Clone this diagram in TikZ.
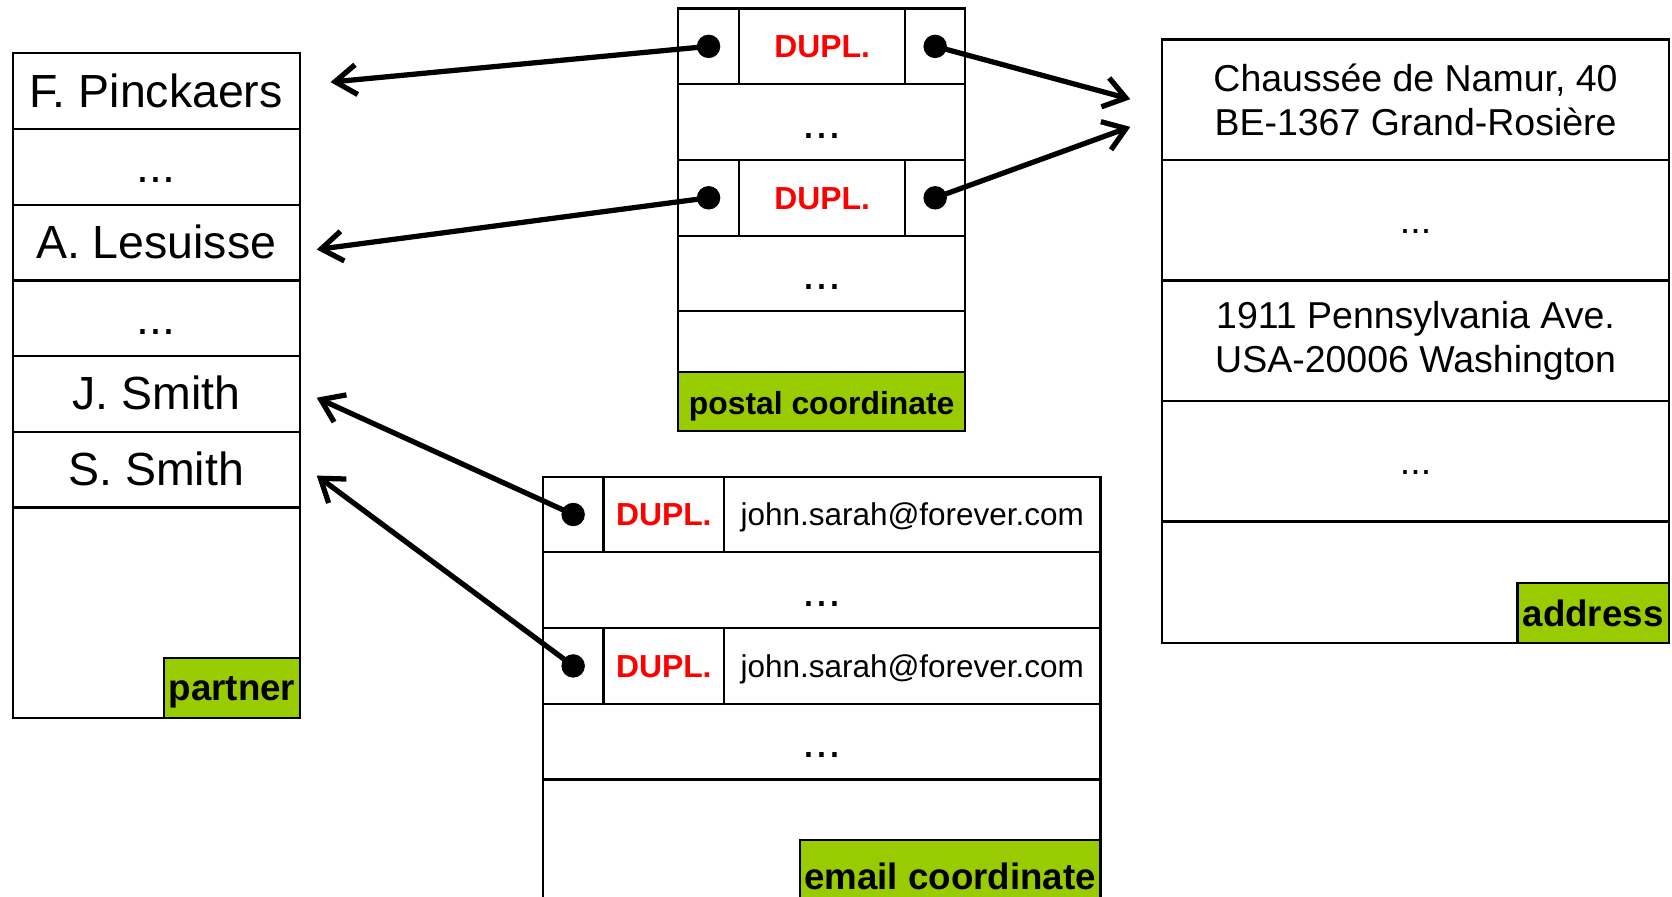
\documentclass[tikz,border=0pt]{standalone}
\usepackage{fontspec}
\setmainfont{Liberation Sans}
\usetikzlibrary{arrows.meta}

\definecolor{tagGreen}{RGB}{153,204,0}
\newcommand{\rowdots}{...}

\begin{document}
\begin{tikzpicture}[
    every node/.style={font=\normalfont},
    cell/.style={draw, semithick, anchor=north west, inner sep=0pt, outer sep=0pt, align=center},
    big/.style={font=\fontsize{12.4}{14}\selectfont, text height=8.5pt, text depth=0pt},
    small/.style={font=\fontsize{10}{11.9}\selectfont},
    dupl/.style={font=\fontsize{8.5}{10}\selectfont\bfseries, text=red, text height=6pt, text depth=0pt},
    mail/.style={font=\fontsize{8.4}{10}\selectfont, text height=6pt, text depth=0pt},
    tag/.style={draw, semithick, fill=tagGreen, anchor=south east, inner sep=0pt, outer sep=0pt,
        font=\fontsize{9.8}{11}\selectfont\bfseries, text height=7pt, text depth=0pt},
    dot/.style={circle, fill, inner sep=0pt, minimum size=.22cm},
    link/.style={line width=1.4pt, -{Straight Barb[length=2mm, width=2.8mm]}},
]
    \useasboundingbox (0,0) rectangle (15.68,-8.41);

    % partner
    \foreach \who [count=\i] in {F. Pinckaers,\rowdots,A. Lesuisse,\rowdots,J. Smith,S. Smith} {
        \pgfmathsetmacro{\y}{-.50-.71*(\i-1)}
        \node[cell, big, minimum width=2.69cm, minimum height=.71cm] (partner\i) at (.12,\y) {\who};
    }
    \node[cell, minimum width=2.69cm, minimum height=1.97cm] (partner7) at (.12,-4.76) {};
    \node[tag, minimum width=1.27cm, minimum height=.56cm] (partnerTag) at (partner7.south east) {partner};

    % postal coordinate
    \foreach \n/\y in {1/-.08, 2/-1.50} {
        \node[cell, minimum width=.57cm, minimum height=.71cm] (postalL\n) at (6.36,\y) {};
        \node[cell, dupl, minimum width=1.56cm, minimum height=.71cm, anchor=west] (postalD\n) at (postalL\n.east) {DUPL.};
        \node[cell, minimum width=.56cm, minimum height=.71cm, anchor=west] (postalR\n) at (postalD\n.east) {};
        \node[dot] (postalLdot\n) at (postalL\n.center) {};
        \node[dot] (postalRdot\n) at (postalR\n.center) {};
    }
    \foreach \n/\y in {1/-.79, 2/-2.21}
        \node[cell, big, minimum width=2.69cm, minimum height=.71cm] (postalGap\n) at (6.36,\y) {\rowdots};
    \node[cell, minimum width=2.69cm, minimum height=1.12cm] (postal5) at (6.36,-2.92) {};
    \node[tag, font=\fontsize{8.5}{10}\selectfont\bfseries, minimum width=2.69cm, minimum height=.55cm] (postalTag) at (postal5.south east) {postal coordinate};

    % email coordinate
    \foreach \n/\y in {1/-4.47, 2/-5.89} {
        \node[cell, minimum width=.57cm, minimum height=.71cm] (emailL\n) at (5.09,\y) {};
        \node[cell, dupl, minimum width=1.13cm, minimum height=.71cm, anchor=west] (emailD\n) at (emailL\n.east) {DUPL.};
        \node[cell, mail, minimum width=3.53cm, minimum height=.71cm, anchor=west] (emailM\n) at (emailD\n.east) {john.sarah@forever.com};
        \node[dot] (emailDot\n) at (emailL\n.center) {};
    }
    \foreach \n/\y in {1/-5.18, 2/-6.60}
        \node[cell, big, minimum width=5.23cm, minimum height=.71cm] (emailGap\n) at (5.09,\y) {\rowdots};
    \node[cell, minimum width=5.23cm, minimum height=1.25cm] (email5) at (5.09,-7.31) {};
    \node[tag, minimum width=2.82cm, minimum height=.68cm] (emailTag) at (email5.south east) {email coordinate};

    % address
    \node[cell, small, minimum width=4.75cm, minimum height=1.13cm] (address1) at (10.90,-.37) {Chaussée de Namur, 40\\BE-1367 Grand-Rosière};
    \node[cell, small, text height=7.2pt, text depth=0pt, minimum width=4.75cm, minimum height=1.13cm] (address2) at (10.90,-1.50) {\rowdots};
    \node[cell, small, minimum width=4.75cm, minimum height=1.13cm] (address3) at (10.90,-2.63) {1911 Pennsylvania Ave.\\USA-20006 Washington};
    \node[cell, small, text height=7.2pt, text depth=0pt, minimum width=4.75cm, minimum height=1.13cm] (address4) at (10.90,-3.76) {\rowdots};
    \node[cell, minimum width=4.75cm, minimum height=1.14cm] (address5) at (10.90,-4.89) {};
    \node[tag, minimum width=1.42cm, minimum height=.56cm] (addressTag) at (address5.south east) {address};

    % references
    \coordinate (toPinckaers) at (3.10,-.77);
    \coordinate (toLesuisse) at (2.97,-2.34);
    \coordinate (toJSmith) at (2.97,-3.73);
    \coordinate (toSSmith) at (2.97,-4.46);
    \coordinate (toNamurA) at (10.60,-.93);
    \coordinate (toNamurB) at (10.60,-1.19);

    \draw[link] (postalLdot1.center) -- (toPinckaers);
    \draw[link] (postalLdot2.center) -- (toLesuisse);
    \draw[link] (postalRdot1.center) -- (toNamurA);
    \draw[link] (postalRdot2.center) -- (toNamurB);
    \draw[link] (emailDot1.center) -- (toJSmith);
    \draw[link] (emailDot2.center) -- (toSSmith);

\end{tikzpicture}
\end{document}
